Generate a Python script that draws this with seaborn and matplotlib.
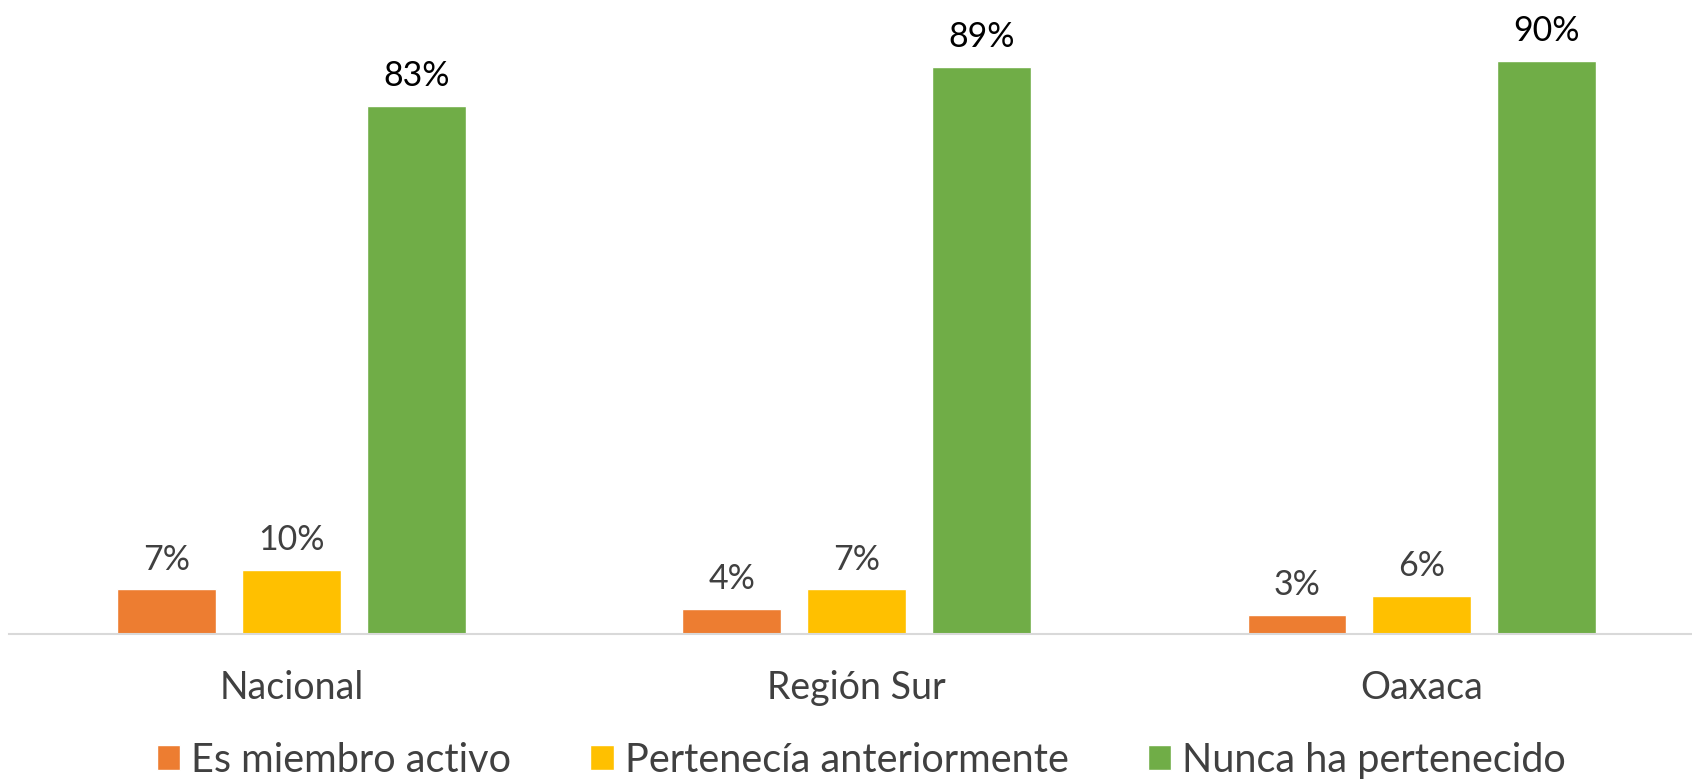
import numpy as np
import pandas as pd
import matplotlib.pyplot as plt
import seaborn as sns
from matplotlib.patches import Patch

# data
categories = ['Nacional', 'Región Sur', 'Oaxaca']
series = ['Es miembro activo', 'Pertenecía anteriormente', 'Nunca ha pertenecido']
activo = [7, 4, 3]
anterior = [10, 7, 6]
nunca = [83, 89, 90]
colors = ['#ED7D31', '#FFC000', '#70AD47']
label_colors = ['#404040', '#404040', '#000000']

df = pd.DataFrame({
    'region': categories * 3,
    'grupo': [series[0]] * 3 + [series[1]] * 3 + [series[2]] * 3,
    'valor': activo + anterior + nunca,
})

sns.set_theme(style='white')
plt.rcParams['font.family'] = ['Lato', 'DejaVu Sans']

fig = plt.figure(figsize=(16.92, 7.8), dpi=100)
ax = fig.add_axes([0.0053, 0.1872, 1.0, 0.7346])

sns.barplot(data=df, x='region', y='valor', hue='grupo', hue_order=series,
            palette=colors, width=0.663, gap=0.21, saturation=1,
            legend=False, ax=ax)

ax.set_ylim(0, 90)
ax.set_xlim(-0.5, 2.494)
ax.set_xlabel('')
ax.set_ylabel('')
ax.set_yticks([])
for s in ['top', 'right', 'left']:
    ax.spines[s].set_visible(False)
ax.spines['bottom'].set_color('#d9d9d9')
ax.spines['bottom'].set_linewidth(1.5)
ax.tick_params(axis='x', length=0, pad=26, labelsize=27, labelcolor='#404040')

for cont, lc in zip(ax.containers, label_colors):
    ax.bar_label(cont, labels=[f'{v:.0f}%' for v in cont.datavalues],
                 padding=10, fontsize=24.5, color=lc, clip_on=False)

handles = [Patch(facecolor=c, label=s) for c, s in zip(colors, series)]
fig.legend(handles=handles, loc='lower center', bbox_to_anchor=(0.509, -0.044),
           ncol=3, frameon=False, fontsize=28.5, labelcolor='#404040',
           handlelength=0.6, handleheight=0.6, handletextpad=0.27,
           columnspacing=2.0)

fig.savefig('out.png', dpi=100)
